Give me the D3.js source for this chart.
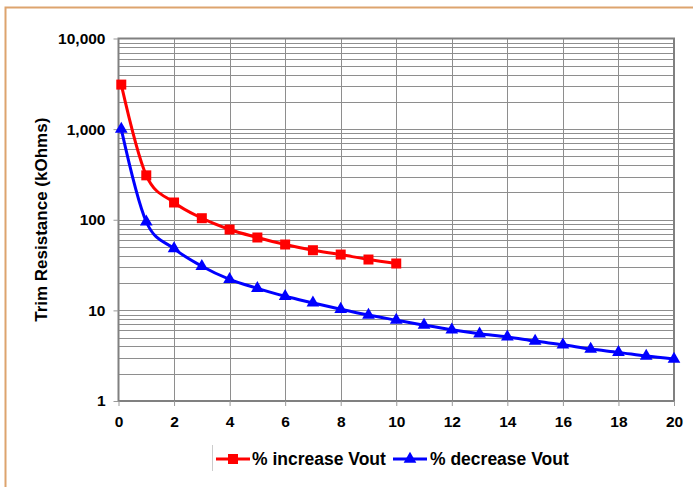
<!DOCTYPE html>
<html><head><meta charset="utf-8">
<script src="https://cdn.jsdelivr.net/npm/d3@7"></script>
<style>
html,body{margin:0;padding:0;background:#fff;}
svg{display:block;font-family:Arial,"Liberation Sans",sans-serif;}
</style></head>
<body>
<script>
// ---- data ----
const increaseX = [0.1, 1, 2, 3, 4, 5, 6, 7, 8, 9, 10];
const increaseY = [3100, 309, 155, 104, 78, 63.7, 53.3, 46.1, 41.3, 36.4, 32.9];
const decreaseX = [0.1, 1, 2, 3, 4, 5, 6, 7, 8, 9, 10, 11, 12, 13, 14, 15, 16, 17, 18, 19, 20];
const decreaseY = [1000, 95, 48, 30.7, 22, 17.5, 14.3, 12.1, 10.3, 8.87, 7.8, 6.87, 6.1, 5.52, 5.1, 4.58, 4.17, 3.74, 3.44, 3.13, 2.9];
const xTicks = [0, 2, 4, 6, 8, 10, 12, 14, 16, 18, 20];
const yTicks = [1, 10, 100, 1000, 10000];
const yTickLabels = ["1", "10", "100", "1,000", "10,000"];
const seriesNames = ["% increase Vout", "% decrease Vout"];
const yTitle = "Trim Resistance (kOhms)";

const W = 693, H = 487;
const svg = d3.select("body").append("svg").attr("width", W).attr("height", H);

// outer chart border
svg.append("rect").attr("x", 5.5).attr("y", 7.5).attr("width", W + 10).attr("height", H + 10)
  .attr("fill", "#fff").attr("stroke", "#DDA46E").attr("stroke-width", 2);

const L = 118.5, R = 674, T = 38.5, B = 401;
const x = d3.scaleLinear().domain([0, 20]).range([L, R]);
const y = d3.scaleLog().domain([1, 10000]).range([B, T]);

// gridlines
const g = svg.append("g");
const minor = [];
for (let d = 1; d < 10000; d *= 10) for (let k = 1; k < 10; k++) minor.push(d * k);
g.selectAll("line.h").data(minor.filter(v => v > 1)).enter().append("line")
  .attr("x1", L).attr("x2", R)
  .attr("y1", d => Math.round(y(d)) + 0.5).attr("y2", d => Math.round(y(d)) + 0.5)
  .attr("stroke", "#8e8e8e").attr("stroke-width", 1);
g.selectAll("line.v").data(xTicks.slice(1, -1)).enter().append("line")
  .attr("y1", T).attr("y2", B)
  .attr("x1", d => Math.round(x(d)) + 0.5).attr("x2", d => Math.round(x(d)) + 0.5)
  .attr("stroke", "#8e8e8e").attr("stroke-width", 1);

// frame
svg.append("rect").attr("x", L).attr("y", T).attr("width", R - L).attr("height", B - T)
  .attr("fill", "none").attr("stroke", "#808080").attr("stroke-width", 2);

// axes
const yAxis = d3.axisLeft(y).tickValues(yTicks).tickFormat((d, i) => yTickLabels[i]).tickSize(5).tickPadding(8);
const ya = svg.append("g").attr("transform", `translate(${L},0)`).call(yAxis);
ya.select(".domain").remove();
ya.selectAll(".tick line").attr("stroke", "#999");
ya.selectAll("text").attr("font-size", 15.5).attr("font-weight", "bold").attr("fill", "#000")
  .attr("font-family", "Arial, 'Liberation Sans', sans-serif");

const xAxis = d3.axisBottom(x).tickValues(xTicks).tickSize(5).tickPadding(10);
const xa = svg.append("g").attr("transform", `translate(0,${B})`).call(xAxis);
xa.select(".domain").remove();
xa.selectAll(".tick line").attr("stroke", "#999");
xa.selectAll("text").attr("font-size", 15.5).attr("font-weight", "bold").attr("fill", "#000")
  .attr("font-family", "Arial, 'Liberation Sans', sans-serif");

// y title
svg.append("text").attr("transform", `translate(47,${(T + B) / 2}) rotate(-90)`)
  .attr("text-anchor", "middle").attr("font-size", 17).attr("font-weight", "bold").text(yTitle);

// series
const line = d3.line().x(d => x(d[0])).y(d => y(d[1])).curve(d3.curveCardinal.tension(0));
const inc = increaseX.map((v, i) => [v, increaseY[i]]);
const dec = decreaseX.map((v, i) => [v, decreaseY[i]]);

const sq = d3.symbol().type(d3.symbolSquare).size(100);
const tri = d3.symbol().type(d3.symbolTriangle).size(70);

svg.append("path").datum(dec).attr("d", line).attr("fill", "none").attr("stroke", "#0000FF").attr("stroke-width", 3);
svg.selectAll("path.tri").data(dec).enter().append("path")
  .attr("transform", d => `translate(${x(d[0])},${y(d[1])})`).attr("d", tri).attr("fill", "#0000FF");

svg.append("path").datum(inc).attr("d", line).attr("fill", "none").attr("stroke", "#FF0000").attr("stroke-width", 3);
svg.selectAll("path.sq").data(inc).enter().append("path")
  .attr("transform", d => `translate(${x(d[0])},${y(d[1])})`).attr("d", sq).attr("fill", "#FF0000");

// legend
const ly = 459;
svg.append("line").attr("x1", 212.5).attr("x2", 212.5).attr("y1", 445).attr("y2", 471).attr("stroke", "#ccc");
const leg = [{c: "#FF0000", s: sq, x0: 216, tx: 252}, {c: "#0000FF", s: tri, x0: 393, tx: 430}];
leg.forEach((o, i) => {
  svg.append("line").attr("x1", o.x0).attr("x2", o.x0 + 34).attr("y1", ly).attr("y2", ly)
    .attr("stroke", o.c).attr("stroke-width", 3);
  svg.append("path").attr("transform", `translate(${o.x0 + 17},${ly})`).attr("d", o.s).attr("fill", o.c);
  svg.append("text").attr("x", o.tx).attr("y", ly + 6).attr("font-size", 17.5).attr("font-weight", "bold")
    .text(seriesNames[i]);
});
</script>
</body></html>
